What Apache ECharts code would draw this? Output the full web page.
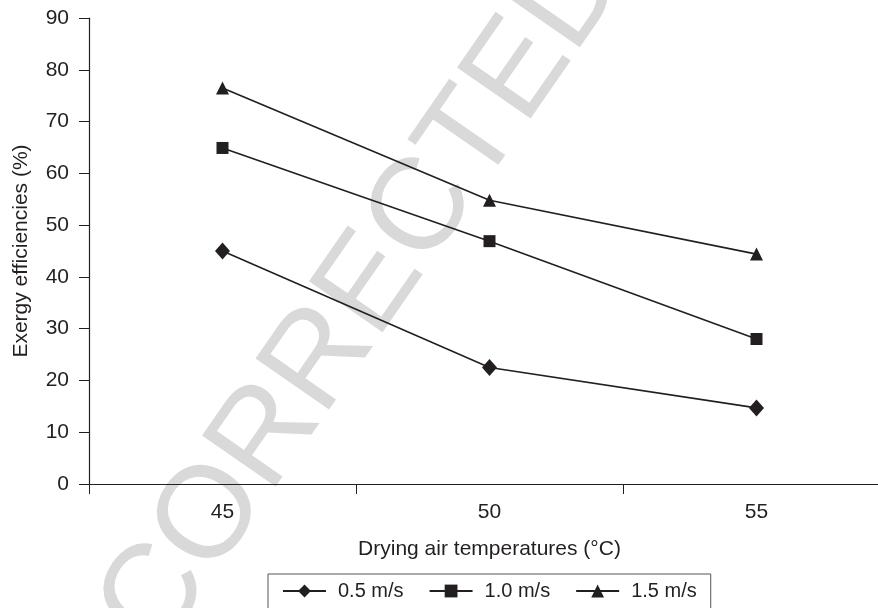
<!DOCTYPE html>
<html>
<head>
<meta charset="utf-8">
<script src="https://cdn.jsdelivr.net/npm/echarts@6/dist/echarts.min.js"></script>
<style>
  html, body { margin: 0; padding: 0; background: #fff; }
  #chart { width: 878px; height: 608px; }
</style>
</head>
<body>
<div id="chart"></div>
<script>
// drying air temperature (°C)
var temperatures = ['45', '50', '55'];
var seriesNames = ['0.5 m/s', '1.0 m/s', '1.5 m/s'];
// exergy efficiencies (%)
var eff05 = [45.0, 22.5, 14.7];
var eff10 = [64.9, 46.9, 28.0];
var eff15 = [76.5, 54.8, 44.4];

var ink = '#231f20';
var fontName = '"Liberation Sans", Arial, Helvetica, sans-serif';

function makeSeries(name, data, symbol, size)
{
    return {
        name: name, type: 'line', data: data,
        symbol: symbol, symbolSize: size,
        itemStyle: {color: ink},
        lineStyle: {color: ink, width: 1.6},
        z: 5
    };
}

var chart = echarts.init(document.getElementById('chart'));

var option = {
    animation: false,
    backgroundColor: '#ffffff',
    textStyle: {fontFamily: fontName, color: ink},
    grid: {left: 89, top: 18, right: -12, bottom: 124, outerBoundsMode: 'none', containLabel: false},
    graphic: [{
        type: 'text', x: 310, y: 374, rotation: 55.3 * Math.PI / 180, z: 0, silent: true,
        style: {text: 'UNCORRECTED', fill: '#d9d9d9', font: '130px ' + fontName,
            align: 'center', verticalAlign: 'middle', textAlign: 'center', textVerticalAlign: 'middle'}
    }],
    legend: {
        data: seriesNames, left: 268, top: 574,
        padding: [7, 14, 12, 14], itemGap: 25, itemWidth: 43, itemHeight: 16,
        borderColor: '#555555', borderWidth: 1, borderRadius: 0,
        textStyle: {fontFamily: fontName, fontSize: 20, color: ink, padding: [0, 0, 0, 7]}
    },
    xAxis: {
        type: 'category', data: temperatures, boundaryGap: true,
        name: 'Drying air temperatures (°C)', nameLocation: 'middle', nameGap: 55,
        nameTextStyle: {fontFamily: fontName, fontSize: 21, color: ink},
        axisLine: {lineStyle: {color: ink, width: 1.2}},
        axisTick: {show: true, length: 10, alignWithLabel: false, lineStyle: {color: ink}},
        axisLabel: {fontFamily: fontName, fontSize: 21, color: ink, margin: 18},
        splitLine: {show: false}
    },
    yAxis: {
        type: 'value', min: 0, max: 90, interval: 10,
        name: 'Exergy efficiencies (%)', nameLocation: 'middle', nameGap: 57,
        nameTextStyle: {fontFamily: fontName, fontSize: 21, color: ink},
        axisLine: {show: true, lineStyle: {color: ink, width: 1.2}},
        axisTick: {show: true, length: 10, lineStyle: {color: ink}},
        axisLabel: {fontFamily: fontName, fontSize: 21, color: ink, margin: 20},
        splitLine: {show: false}
    },
    series: [
        makeSeries(seriesNames[0], eff05, 'diamond', [15, 17]),
        makeSeries(seriesNames[1], eff10, 'rect', 12),
        makeSeries(seriesNames[2], eff15, 'triangle', 13)
    ]
};

chart.setOption(option);
</script>
</body>
</html>
